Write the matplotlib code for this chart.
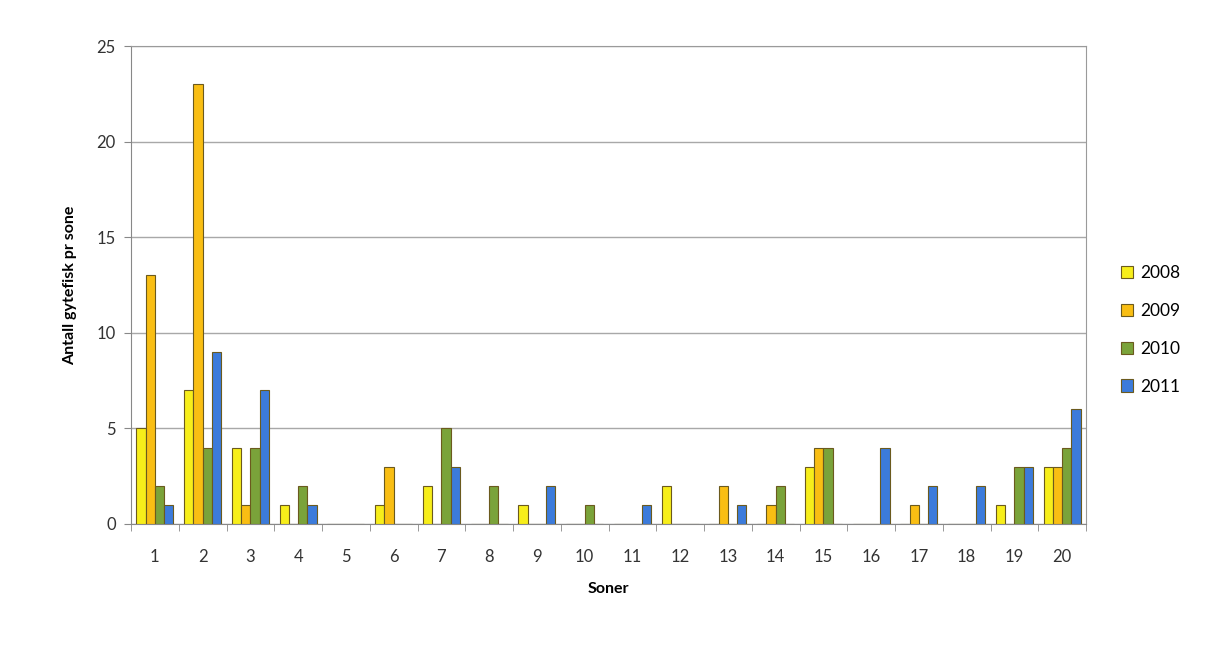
import matplotlib
matplotlib.use("Agg")
import matplotlib.pyplot as plt
import numpy as np

plt.rcParams['font.family'] = ['Lato', 'DejaVu Sans']

zones = [str(i) for i in range(1, 21)]
y2008 = [5, 7, 4, 1, 0, 1, 2, 0, 1, 0, 0, 2, 0, 0, 3, 0, 0, 0, 1, 3]
y2009 = [13, 23, 1, 0, 0, 3, 0, 0, 0, 0, 0, 0, 2, 1, 4, 0, 1, 0, 0, 3]
y2010 = [2, 4, 4, 2, 0, 0, 5, 2, 0, 1, 0, 0, 0, 2, 4, 0, 0, 0, 3, 4]
y2011 = [1, 9, 7, 1, 0, 0, 3, 0, 2, 0, 1, 0, 1, 0, 0, 4, 2, 2, 3, 6]
series = [("2008", y2008, "#F7EE1A"), ("2009", y2009, "#F9BE13"),
          ("2010", y2010, "#7AA33A"), ("2011", y2011, "#3C7BDB")]

fig = plt.figure(figsize=(12.1, 6.48), dpi=100)
fig.patch.set_facecolor("white")
ax = fig.add_axes([131/1210, 1 - 524/648, (1086-131)/1210, (524-46)/648])

x = np.arange(len(zones))
w = 0.195
for i, (lab, vals, col) in enumerate(series):
    ax.bar(x + (i - 1.5) * w, vals, width=w, color=col, edgecolor="#6b5a1e",
           linewidth=0.8, label=lab, zorder=3)

ax.set_xlim(-0.5, len(zones) - 0.5)
ax.set_ylim(0, 25)
ax.set_yticks([0, 5, 10, 15, 20, 25])
ax.yaxis.grid(True, color="#a8a8a8", linewidth=1.0, zorder=0)
ax.set_xticks(x)
ax.set_xticklabels(zones)
ax.set_xticks(np.arange(-0.5, len(zones), 1), minor=True)
ax.tick_params(axis='x', which='major', length=0, labelsize=12, colors="#333333", pad=18)
ax.tick_params(axis='x', which='minor', length=5, color="#888888", direction='out')
ax.tick_params(axis='y', length=5, color="#888888", labelsize=12, labelcolor="#333333", pad=6)
for s in ["top", "right"]:
    ax.spines[s].set_color("#9a9a9a")
ax.spines["left"].set_color("#888888")
ax.spines["bottom"].set_color("#888888")

ax.set_ylabel("Antall gytefisk pr sone", fontsize=11.5, fontweight="bold", labelpad=14)
ax.set_xlabel("Soner", fontsize=11.5, fontweight="bold", labelpad=12)

leg = fig.legend(loc="center left", bbox_to_anchor=(1105/1210, 1 - 330/648), frameon=False,
                 fontsize=12.5, handlelength=0.7, handleheight=0.7, labelspacing=1.25,
                 handletextpad=0.4)
for h in leg.legend_handles:
    h.set_edgecolor("#6b5a1e")

fig.savefig("out.png", dpi=100)
